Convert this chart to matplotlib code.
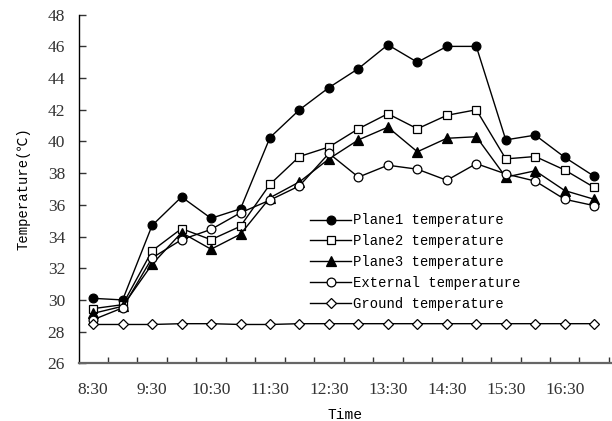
import matplotlib
matplotlib.use("Agg")
import matplotlib.pyplot as plt
import numpy as np

times = ["8:30", "9:00", "9:30", "10:00", "10:30", "11:00", "11:30", "12:00", "12:30",
         "13:00", "13:30", "14:00", "14:30", "15:00", "15:30", "16:00", "16:30", "17:00"]
plane1 = [30.1, 30.0, 34.7, 36.5, 35.15, 35.75, 40.25, 42.0, 43.4, 44.6, 46.1, 45.0,
          46.0, 46.0, 40.1, 40.4, 39.0, 37.8]
plane2 = [29.45, 29.7, 33.1, 34.5, 33.8, 34.65, 37.3, 39.05, 39.65, 40.8, 41.75, 40.8,
          41.65, 42.0, 38.9, 39.05, 38.2, 37.1]
plane3 = [29.15, 29.6, 32.25, 34.25, 33.2, 34.15, 36.45, 37.45, 38.9, 40.1, 40.9, 39.35,
          40.2, 40.3, 37.75, 38.15, 36.9, 36.35]
external = [28.75, 29.5, 32.65, 33.8, 34.45, 35.5, 36.3, 37.2, 39.25, 37.75, 38.5, 38.25,
            37.55, 38.6, 37.95, 37.5, 36.35, 35.95]
ground = [28.45, 28.45, 28.45, 28.5, 28.5, 28.45, 28.45, 28.5, 28.5, 28.5, 28.5, 28.5,
          28.5, 28.5, 28.5, 28.5, 28.5, 28.5]
labels = ["Plane1 temperature", "Plane2 temperature", "Plane3 temperature",
          "External temperature", "Ground temperature"]
xtick_labels = ["8:30", "9:30", "10:30", "11:30", "12:30", "13:30", "14:30", "15:30", "16:30"]
yticks = [26, 28, 30, 32, 34, 36, 38, 40, 42, 44, 46, 48]

fig = plt.figure(figsize=(6.12, 4.21), dpi=100)
ax = fig.add_axes([79/612, 1-363.3/421, 532/612, 348.6/421])

x = np.arange(len(times))
series = [plane1, plane2, plane3, external, ground]
styles = [dict(marker="o", mfc="black", ms=6.3),
          dict(marker="s", mfc="white", ms=6.2),
          dict(marker="^", mfc="black", ms=6.8),
          dict(marker="o", mfc="white", ms=6.3),
          dict(marker="D", mfc="white", ms=5)]
for s, lab, st in zip(series, labels, styles):
    ax.plot(x, s, color="black", lw=1.0, mec="black", mew=0.9, label=lab, **st)

ax.set_xlim(-0.48, 17.57)
ax.set_ylim(26, 48)
ax.set_yticks(yticks)
ax.set_yticklabels([str(v) for v in yticks], fontfamily="Liberation Serif", fontsize=12.5)

tick_pos = [times.index(t) for t in xtick_labels]
ax.set_xticks(tick_pos)
ax.set_xticklabels(xtick_labels, fontfamily="Liberation Serif", fontsize=12.5)
ax.set_xticks(np.arange(0.5, 17.6, 1), minor=True)
ax.tick_params(axis="x", which="major", length=0, pad=13.5, colors="#333333")
ax.tick_params(axis="x", which="minor", direction="in", length=4, width=1, color="#333333")
ax.tick_params(axis="y", direction="in", length=5, width=1, pad=10, colors="#333333")

for sp in ["top", "right"]:
    ax.spines[sp].set_visible(False)
ax.spines["left"].set_linewidth(1.0)
ax.spines["bottom"].set_linewidth(1.6)
ax.spines["bottom"].set_color("#666666")

lab_font = ["Liberation Mono", "Noto Sans CJK SC"]
ax.set_xlabel("Time", fontfamily=lab_font, fontsize=10.5, labelpad=7)
ax.set_ylabel("Temperature(℃)", fontfamily=lab_font, fontsize=10, labelpad=12)

leg = ax.legend(loc="upper left", bbox_to_anchor=(0.435, 0.43), frameon=False,
                prop={"family": "Liberation Mono", "size": 10}, handlelength=2.9,
                handletextpad=0.15, labelspacing=0.5, borderpad=0, borderaxespad=0)

fig.savefig("out.png", dpi=100)
